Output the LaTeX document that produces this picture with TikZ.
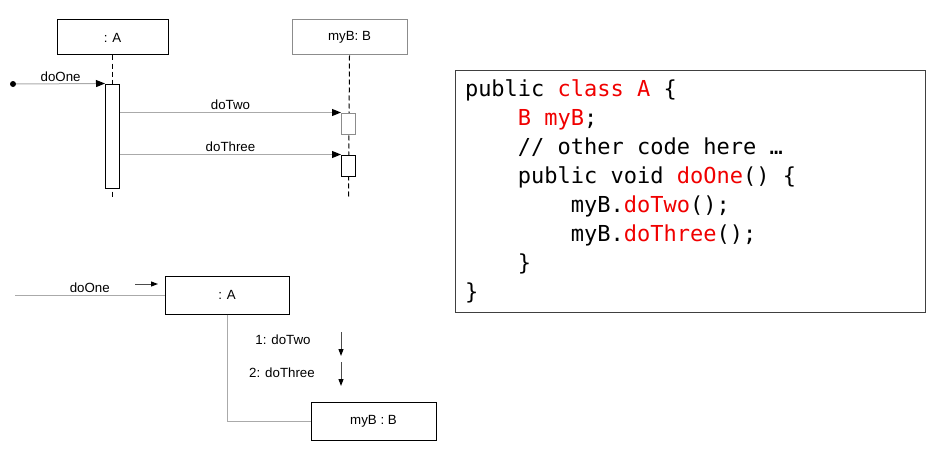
\documentclass[tikz,border=0pt]{standalone}
\usepackage{fontspec}
\setmainfont{Liberation Sans}
\newfontfamily\codefont{DejaVu Sans Mono}
\usepackage{tikz}
\usetikzlibrary{positioning}
\usetikzlibrary{calc}
\usetikzlibrary{arrows.meta}

\definecolor{msggray}{RGB}{170,170,170}
\definecolor{kwred}{RGB}{240,0,0}
\newcommand{\kw}[1]{\textcolor{kwred}{#1}}
\newcommand{\ind}{\hphantom{0000}}
\newcommand{\codespaces}{\spaceskip=\fontcharwd\font`0\relax\xspaceskip=\spaceskip}

\begin{document}
\begin{tikzpicture}[x=1pt, y=-1pt,
		every node/.style={font=\fontsize{13.3}{16}\selectfont},
		objbox/.style={draw, fill=white, line width=1pt},
		actbox/.style={draw, fill=white, line width=1pt, minimum width=14pt, inner sep=0pt},
		lifeline/.style={dash pattern=on 5pt off 3pt, line width=1pt},
		msg/.style={draw=msggray, line width=1pt, -{Triangle[length=9pt, width=7pt, color=black]}},
		link/.style={draw=msggray, line width=1pt},
		callarrow/.style={draw=black!70, line width=1pt, -{Triangle[length=7pt, width=5pt, color=black]}}]
				\useasboundingbox (0,0) rectangle (936,460);

				% sequence diagram: nodes
				\node[objbox, minimum width=111pt, minimum height=35pt] (seqA) at (112.5,37.5) {: A};
				\node[objbox, draw=black!45, minimum width=115pt, minimum height=35pt, right = 123pt of seqA] (seqB) {myB: B};

				\coordinate (seqAend) at (112.5,198);
				\coordinate (seqBend) at (348.5,198);
				\draw[lifeline] (seqA.south) -- (seqAend);
				\draw[lifeline] (seqB.south) -- (seqBend);

				\node[actbox, minimum height=104pt] (actA) at (112.5,136) {};
				\node[actbox, draw=black!45, minimum height=21pt] (actB1) at (348.5,123.5) {};
				\node[actbox, minimum height=21pt] (actB2) at (348.5,165.5) {};
				\node[circle, fill, inner sep=0pt, minimum size=6pt] (start) at (13,84) {};

				% sequence diagram: edges
				\draw[msg] (start) -- (actA.north west)
					node[midway, above, inner sep=2pt]{doOne};
				\draw[msg] (actA.east |- actB1.north) -- (actB1.north west)
					node[midway, above, inner sep=2pt]{doTwo};
				\draw[msg] (actA.east |- actB2.north) -- (actB2.north west)
					node[midway, above, inner sep=2pt]{doThree};

				% communication diagram: nodes
				\node[objbox, minimum width=124pt, minimum height=38pt] (commA) at (227,295) {: A};
				\node[objbox, minimum width=125pt, minimum height=38pt, below right = 87pt and 21pt of commA] (commB) {myB : B};

				\coordinate (inA) at (15,295);
				\coordinate (callS) at (135,284);
				\coordinate (callE) at (158,284);

				\node (lblTwo) at (283,340) {1: doTwo};
				\node (lblThree) at (282,373) {2: doThree};
				\coordinate (twoS) at (341,332);
				\coordinate (twoE) at (341,356);
				\coordinate (threeS) at (341,362);
				\coordinate (threeE) at (341,386);

				% communication diagram: edges
				\draw[link] (inA) -- (commA.west)
					node[midway, above, inner sep=2pt]{doOne};
				\draw[callarrow] (callS) -- (callE);
				\draw[link] (commA.south) |- (commB.west);
				\draw[callarrow] (twoS) -- (twoE);
				\draw[callarrow] (threeS) -- (threeE);

				% source code
				\node[draw=black!75, line width=1pt, text width=450pt, inner xsep=10pt, inner ysep=0pt,
					minimum height=242pt, align=left, font=\codefont\fontsize{22}{29}\selectfont] (code) at (690,191) {\codespaces
public \kw{class A} \{\\
\ind\kw{B myB};\\
\ind// other code here …\\
\ind public void \kw{doOne}() \{\\
\ind\ind myB.\kw{doTwo}();\\
\ind\ind myB.\kw{doThree}();\\
\ind\}\\
\}};
			\end{tikzpicture}
\end{document}
